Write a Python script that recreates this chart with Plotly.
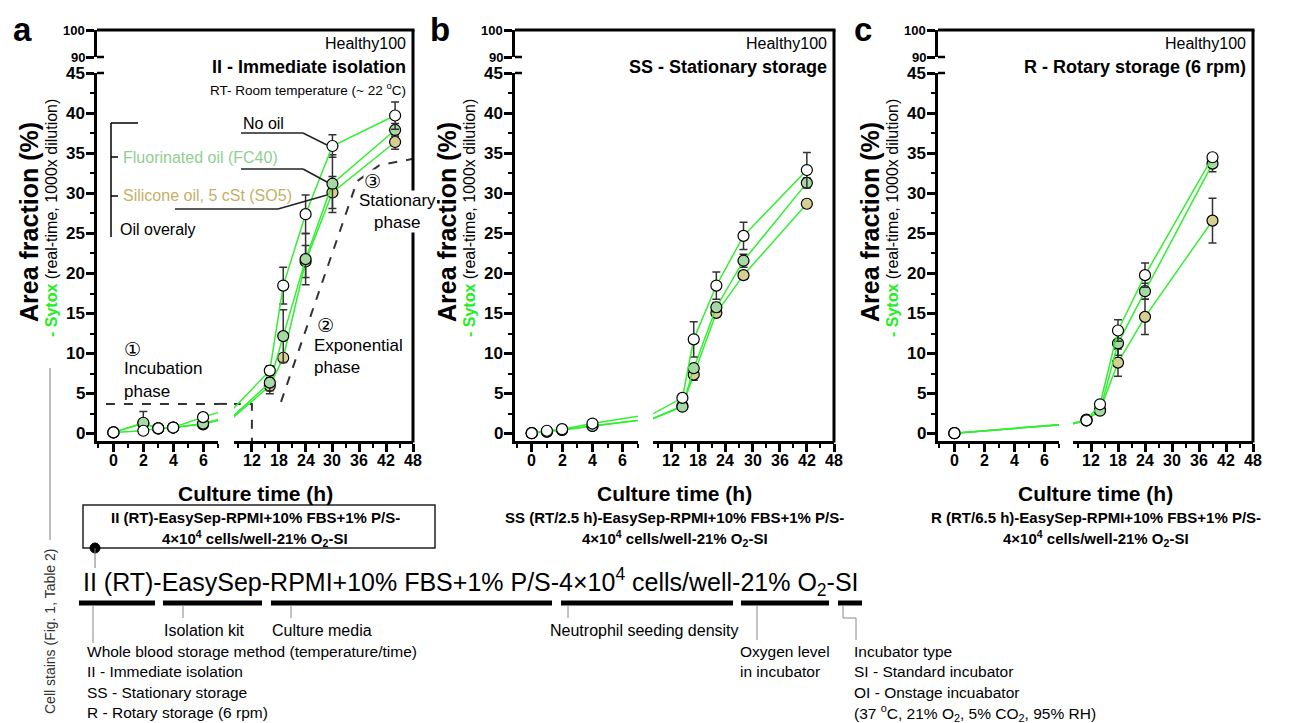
import plotly.graph_objects as go

# ---------------- data ----------------
# Panel a: II - Immediate isolation
t_II = [0, 2, 3, 4, 6, 16, 19, 24, 30, 44]
II_no_oil = [0.2, 0.4, 0.7, 0.8, 2.1, 7.9, 18.5, 27.4, 35.9, 39.7]
II_fc40 = [0.2, 1.4, 0.7, 0.8, 1.3, 6.4, 12.2, 21.8, 31.2, 37.9]
II_so5 = [0.2, 1.3, 0.7, 0.8, 1.2, 6.0, 9.5, 21.5, 30.1, 36.4]
II_no_oil_err = [None, None, None, None, None, 0.6, 2.3, 2.4, 1.4, 1.7]
II_fc40_err = [None, 1.4, None, None, 0.3, 1.0, 3.3, 3.2, 3.6, 0.8]
II_so5_err = [None, None, None, None, 0.3, 1.0, None, 2.0, 2.0, 0.9]

# Panel b: SS - Stationary storage
t_SS = [0, 1, 2, 4, 14.5, 17, 22, 28, 42]
SS_no_oil = [0.1, 0.4, 0.6, 1.3, 4.5, 11.8, 18.5, 24.7, 32.9]
SS_fc40 = [0.1, 0.3, 0.5, 1.0, 3.4, 8.2, 15.8, 21.6, 31.3]
SS_so5 = [0.1, 0.3, 0.5, 1.0, 3.5, 7.4, 15.1, 19.8, 28.7]
SS_no_oil_err = [None, None, None, None, 0.3, 2.2, 1.7, 1.7, 2.2]
SS_fc40_err = [None, None, None, None, None, 0.5, 0.6, 0.8, 0.6]
SS_so5_err = [None, None, None, None, None, 0.7, 0.4, 0.5, 0.5]

# Panel c: R - Rotary storage (6 rpm)
t_R = [0, 11, 14, 18, 24, 39]
R_no_oil = [0.1, 1.7, 3.7, 12.9, 19.8, 34.5]
R_fc40 = [0.1, 1.8, 2.9, 11.3, 17.8, 33.7]
R_so5 = [0.1, 1.7, 3.0, 8.9, 14.6, 26.6]
R_no_oil_err = [None, None, 0.3, 1.35, 1.5, 0.3]
R_fc40_err = [None, None, 0.3, 1.5, 1.0, 1.0]
R_so5_err = [None, None, None, 1.7, 2.2, 2.8]

# axis ticks
y_ticks = [0, 5, 10, 15, 20, 25, 30, 35, 40, 45]
y_break_ticks = [90, 100]
x_ticks_early = [0, 2, 4, 6]
x_ticks_late = [12, 18, 24, 30, 36, 42, 48]

# phase guides (panel a)
incubation_level = 3.75
incubation_end = 12
exp_guide_t = [18.5, 35.5, 40.5, 48]
exp_guide_v = [4.0, 31.5, 33.5, 34.3]

series_names = ["Silicone oil, 5 cSt (SO5)", "Fluorinated oil (FC40)", "No oil"]
marker_fill = ["#d6cf94", "#a6d9a6", "#ffffff"]
LINE_GREEN = "#33ee33"

panels = [
    dict(t=t_II, ys=[II_so5, II_fc40, II_no_oil], es=[II_so5_err, II_fc40_err, II_no_oil_err],
         letter="a", title="II - Immediate isolation",
         cond="II (RT)-EasySep-RPMI+10% FBS+1% P/S-"),
    dict(t=t_SS, ys=[SS_so5, SS_fc40, SS_no_oil], es=[SS_so5_err, SS_fc40_err, SS_no_oil_err],
         letter="b", title="SS - Stationary storage",
         cond="SS (RT/2.5 h)-EasySep-RPMI+10% FBS+1% P/S-"),
    dict(t=t_R, ys=[R_so5, R_fc40, R_no_oil], es=[R_so5_err, R_fc40_err, R_no_oil_err],
         letter="c", title="R - Rotary storage (6 rpm)",
         cond="R (RT/6.5 h)-EasySep-RPMI+10% FBS+1% P/S-"),
]

# ---------------- layout geometry (page pixels) ----------------
PAGE_OFF = 8                      # default body margin of the html page
W, H = 1303 - PAGE_OFF, 723 - PAGE_OFF
FONT = "Liberation Sans"
geom = [dict(ax=97, s1=218, s2=234, right=413),
        dict(ax=515, s1=638, s2=653, right=834),
        dict(ax=938, s1=1059, s2=1073, right=1253)]
Y_TOP, Y_UB, Y_LT, Y_BOT = 30, 57, 73, 441


def px(x):
    return (x - PAGE_OFF) / W


def py(y):
    return 1 - (y - PAGE_OFF) / H


fig = go.Figure()
layout = dict(width=W, height=H, margin=dict(l=0, r=0, t=0, b=0, pad=0), autosize=False,
              paper_bgcolor="white", plot_bgcolor="white", showlegend=False,
              font=dict(family=FONT, color="black"))
annotations = []
shapes = []


def ann(x, y, text, size, color="black", bold=False, xanchor="left", yanchor="middle",
        angle=0, bg=None, family=FONT):
    if bold:
        text = "<b>" + text + "</b>"
    d = dict(x=px(x), y=py(y), xref="paper", yref="paper", text=text, showarrow=False,
             xanchor=xanchor, yanchor=yanchor, textangle=angle,
             font=dict(family=family, size=size, color=color))
    if bg:
        d["bgcolor"] = bg
        d["borderpad"] = 0
    annotations.append(d)


def tick_label(text, size, xref, x, yref, y, xanchor, yanchor, xshift=0, yshift=0):
    annotations.append(dict(x=x, y=y, xref=xref, yref=yref, text="<b>%s</b>" % text,
                            showarrow=False, xanchor=xanchor, yanchor=yanchor,
                            xshift=xshift, yshift=yshift,
                            font=dict(family=FONT, size=size, color="black")))


def line(x0, y0, x1, y1, w=1.5, color="black", dash=None):
    ln = dict(color=color, width=w)
    if dash:
        ln["dash"] = dash
    shapes.append(dict(type="line", xref="paper", yref="paper", x0=px(x0), y0=py(y0),
                       x1=px(x1), y1=py(y1), line=ln))


for i, (p, g) in enumerate(zip(panels, geom)):
    xa, xb = 2 * i + 1, 2 * i + 2
    ylo, yup = 2 * i + 1, 2 * i + 2
    xa_n = "x" if xa == 1 else f"x{xa}"
    xb_n = f"x{xb}"
    ylo_n = "y" if ylo == 1 else f"y{ylo}"
    yup_n = f"y{yup}"
    common_x = dict(showline=True, linewidth=3, linecolor="black", ticks="outside", ticklen=8,
                    tickwidth=2.5, tickcolor="black", showgrid=False, zeroline=False,
                    showticklabels=False, anchor=ylo_n, fixedrange=True, automargin=False)
    layout["xaxis" if xa == 1 else f"xaxis{xa}"] = dict(
        common_x, domain=[px(g["ax"]), px(g["s1"])], range=[-1.1, 7],
        tickmode="array", tickvals=x_ticks_early,
        minor=dict(dtick=1, tick0=0, ticks="outside", ticklen=4, tickwidth=2, tickcolor="black"))
    layout[f"xaxis{xb}"] = dict(
        common_x, domain=[px(g["s2"]), px(g["right"])], range=[8, 48],
        tickmode="array", tickvals=x_ticks_late,
        minor=dict(dtick=3, tick0=0, ticks="outside", ticklen=4, tickwidth=2, tickcolor="black"))
    layout["yaxis" if ylo == 1 else f"yaxis{ylo}"] = dict(
        domain=[py(Y_BOT), py(Y_LT)], range=[-0.875, 45], anchor=xa_n,
        showline=True, linewidth=3, linecolor="black", ticks="outside", ticklen=8, tickwidth=2.5,
        tickcolor="black", tickmode="array", tickvals=y_ticks, showticklabels=False,
        showgrid=False, zeroline=False, fixedrange=True, automargin=False,
        minor=dict(dtick=2.5, tick0=0, ticks="outside", ticklen=4, tickwidth=2, tickcolor="black"))
    layout[f"yaxis{yup}"] = dict(
        domain=[py(Y_UB), py(Y_TOP)], range=[90, 100], anchor=xa_n,
        showline=True, linewidth=3, linecolor="black", ticks="outside", ticklen=8, tickwidth=2.5,
        tickcolor="black", tickmode="array", tickvals=y_break_ticks, showticklabels=False,
        showgrid=False, zeroline=False, fixedrange=True, automargin=False)

    # tick labels (bold), placed on the axes' own scales
    for v in y_ticks:
        tick_label(v, 17, f"{xa_n} domain", 0, ylo_n, v, "right", "middle", xshift=-10)
    for v in y_break_ticks:
        tick_label(v, 13, f"{xa_n} domain", 0, yup_n, v, "right", "middle", xshift=-10)
    for v in x_ticks_early:
        tick_label(v, 16, xa_n, v, f"{ylo_n} domain", 0, "center", "top", yshift=-9)
    for v in x_ticks_late:
        tick_label(v, 16, xb_n, v, f"{ylo_n} domain", 0, "center", "top", yshift=-9)

    # dummy trace to materialise the upper (broken) axis
    fig.add_trace(go.Scatter(x=[None], y=[None], xaxis=xa_n, yaxis=yup_n, hoverinfo="skip"))

    if i == 0:
        # phase guides
        for xn, xs, ys in [(xa_n, [-0.5, 7.5], [incubation_level, incubation_level]),
                           (xb_n, [7.5, incubation_end, incubation_end],
                            [incubation_level, incubation_level, -0.875]),
                           (xb_n, exp_guide_t, exp_guide_v)]:
            fig.add_trace(go.Scatter(x=xs, y=ys, xaxis=xn, yaxis=ylo_n, mode="lines",
                                     line=dict(color="#333333", width=2, dash="dash"),
                                     hoverinfo="skip"))
        # continue the incubation guide across the axis break
        shapes.append(dict(type="line", xref="paper", yref=ylo_n, x0=px(g["s1"]), x1=px(g["s2"]),
                           y0=incubation_level, y1=incubation_level,
                           line=dict(color="#333333", width=2, dash="dash")))

    for xn in (xa_n, xb_n):
        for name, yv, ev, fill in zip(series_names, p["ys"], p["es"], marker_fill):
            fig.add_trace(go.Scatter(
                x=p["t"], y=yv, name=name, xaxis=xn, yaxis=ylo_n, mode="lines+markers",
                line=dict(color=LINE_GREEN, width=1.5),
                marker=dict(size=11, color=fill, line=dict(color="black", width=1.2)),
                error_y=dict(type="data", array=ev, visible=True, color="#333333",
                             thickness=1.5, width=4)))

    # frame (top + right)
    line(g["ax"], Y_TOP, g["right"] + 1.5, Y_TOP, w=3)
    line(g["right"], Y_TOP, g["right"], Y_BOT + 1.5, w=3)
    # break caps (inner halves of the 90 / 45 ticks)
    line(g["ax"], Y_UB, g["ax"] + 7, Y_UB, w=2.5)
    line(g["ax"], Y_LT, g["ax"] + 7, Y_LT, w=2.5)

    # texts inside panel
    ann(g["right"] - 5, 43, "Healthy100", 16, xanchor="right")
    ann(g["right"] - 5, 67, p["title"], 18, bold=True, xanchor="right")
    # panel letter
    ann(g["ax"] - 75, 29, p["letter"], 33, bold=True, xanchor="center")
    # y titles
    ann(g["ax"] - 68, 222, "Area fraction (%)", 25, bold=True, xanchor="center", angle=-90)
    ann(g["ax"] - 46, 218,
        "<span style='color:#22ee22'><b>- Sytox</b></span> (real-time, 1000x dilution)",
        16, xanchor="center", angle=-90)
    # x title
    cx = (g["ax"] + g["right"]) / 2
    ann(cx, 493, "Culture time (h)", 21, bold=True, xanchor="center")
    # condition label below
    ann(cx, 517, p["cond"], 15, bold=True, xanchor="center")
    ann(cx, 538, "4×10<sup>4</sup> cells/well-21% O<sub>2</sub>-SI", 15, bold=True, xanchor="center")

# panel a specific annotations
ann(408, 89, "RT- Room temperature (~ 22 <sup>o</sup>C)", 13.5, xanchor="right")
ann(241, 124, "No oil", 16)
ann(121, 157, "Fluorinated oil (FC40)", 16, color="#8fcf8f")
ann(121, 196, "Silicone oil, 5 cSt (SO5)", 16, color="#c4b068")
ann(118, 230, "Oil overaly", 16)
for pts in [[(241, 133), (303, 133), (327, 145)],
            [(241, 169), (303, 169), (327, 182)],
            [(175, 209), (278, 209), (327, 195)]]:
    for (a0, b0), (a1, b1) in zip(pts[:-1], pts[1:]):
        line(a0, b0, a1, b1, w=1.5, color="#222222")
line(138, 123, 111, 123, w=1.5)
line(111, 123, 111, 237, w=1.5)
line(111, 157, 118, 157, w=1.5)
line(111, 196, 118, 196, w=1.5)

CIRC = "DejaVu Sans"
ann(132, 349, "①", 19, xanchor="center", family=CIRC)
ann(122, 368, "Incubation", 17)
ann(122, 391, "phase", 17)
ann(325, 325, "②", 19, xanchor="center", family=CIRC)
ann(312, 345, "Exponential", 17)
ann(312, 367, "phase", 17)
ann(372, 181, "③", 19, xanchor="center", bg="white", family=CIRC)
ann(358, 211, "Stationary<br>phase", 17, bg="white")

# bottom schematic
shapes.append(dict(type="rect", xref="paper", yref="paper", x0=px(83), x1=px(435),
                   y0=py(548), y1=py(505), line=dict(color="#222222", width=1.5)))
shapes.append(dict(type="circle", xref="paper", yref="paper", x0=px(90), x1=px(100),
                   y0=py(553), y1=py(543), fillcolor="black", line=dict(color="black", width=1)))
line(95, 548, 95, 568, w=1, color="#777777")
line(50, 368, 50, 540, w=1, color="#777777")
ann(50, 632, "Cell stains (Fig. 1, Table 2)", 14, color="#333333", xanchor="center", angle=-90)

ann(81, 582, "II (RT)-EasySep-RPMI+10% FBS+1% P/S-4×10<sup>4</sup> cells/well-21% O<sub>2</sub>-SI", 25)
for x0, x1 in [(79, 155), (163, 262), (271, 552), (561, 733), (741, 829), (838, 862)]:
    line(x0, 603, x1, 603, w=5)
for x0, y1 in [(93, 643), (183, 618), (291, 618), (568, 618), (757, 640)]:
    line(x0, 606, x0, y1, w=1, color="#888888")
line(843, 606, 843, 618, w=1, color="#888888")
line(843, 618, 856, 618, w=1, color="#888888")
line(856, 618, 856, 640, w=1, color="#888888")

ann(162, 630, "Isolation kit", 16)
ann(270, 630, "Culture media", 16)
ann(548, 630, "Neutrophil seeding density", 16)
for k, txt in enumerate(["Whole blood storage method (temperature/time)", "II - Immediate isolation",
                         "SS - Stationary storage", "R - Rotary storage (6 rpm)"]):
    ann(85, 651 + 20.5 * k, txt, 15.5)
ann(738, 651, "Oxygen level", 15.5)
ann(738, 671.5, "in incubator", 15.5)
for k, txt in enumerate(["Incubator type", "SI - Standard incubator", "OI - Onstage incuabator",
                         "(37 <sup>o</sup>C, 21% O<sub>2</sub>, 5% CO<sub>2</sub>, 95% RH)"]):
    ann(852, 651 + 20.5 * k, txt, 15.5)

layout["annotations"] = annotations
layout["shapes"] = shapes
fig.update_layout(**layout)
fig.write_html("out.html")
